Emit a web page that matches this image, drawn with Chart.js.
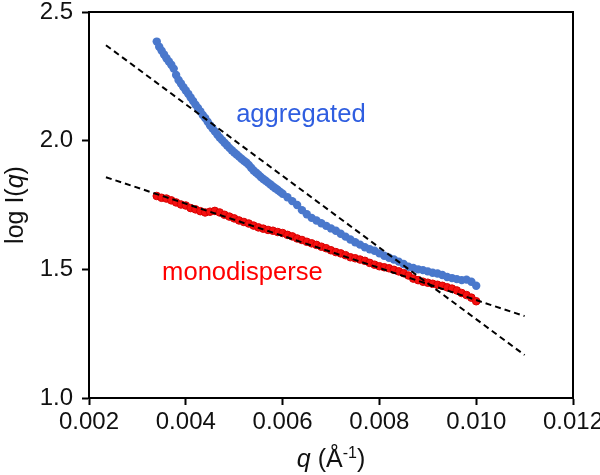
<!DOCTYPE html>
<html>
<head>
<meta charset="UTF-8">
<title>log I(q) vs q</title>
<script src="https://cdn.jsdelivr.net/npm/chart.js"></script>
<style>
  html, body { margin: 0; padding: 0; background: #fff; }
  #wrap { width: 600px; height: 475px; }
</style>
</head>
<body>
<div id="wrap"><canvas id="chart" width="600" height="475"></canvas></div>
<script>
// q values (Å^-1) of the aggregated points (denser where the curve is steep)
const aggregatedQ = [
  0.00340, 0.00345, 0.00350, 0.00355, 0.00360, 0.00365, 0.00370, 0.00375, 0.00380, 0.00385,
  0.00390, 0.00395, 0.00400, 0.00405, 0.00410, 0.00415, 0.00420, 0.00425, 0.00430, 0.00435,
  0.00440, 0.00445, 0.00450, 0.00455, 0.00460, 0.00465, 0.00470, 0.00475, 0.00480, 0.00485,
  0.00490, 0.00495, 0.00500, 0.00505, 0.00510, 0.00515, 0.00520, 0.00525, 0.00530, 0.00535,
  0.00540, 0.00545, 0.00550, 0.00555, 0.00560, 0.00565, 0.00570, 0.00575, 0.00580, 0.00585,
  0.00590, 0.00595,
  0.0060, 0.0061, 0.0062, 0.0063, 0.0064, 0.0065, 0.0066, 0.0067, 0.0068, 0.0069,
  0.0070, 0.0071, 0.0072, 0.0073, 0.0074, 0.0075, 0.0076, 0.0077, 0.0078, 0.0079,
  0.0080, 0.0081, 0.0082, 0.0083, 0.0084, 0.0085, 0.0086, 0.0087, 0.0088, 0.0089,
  0.0090, 0.0091, 0.0092, 0.0093, 0.0094, 0.0095, 0.0096, 0.0097, 0.0098, 0.0099,
  0.0100
];

// log I(q), aggregated sample (blue)
const aggregated = [
  2.385, 2.365, 2.350, 2.335, 2.320, 2.308, 2.295, 2.280, 2.255, 2.236,
  2.222, 2.208, 2.195, 2.182, 2.168, 2.154, 2.140, 2.127, 2.114, 2.100,
  2.088, 2.074, 2.060, 2.048, 2.036, 2.024, 2.012, 2.002, 1.992, 1.982,
  1.972, 1.963, 1.954, 1.946, 1.938, 1.930, 1.922, 1.915, 1.906, 1.895,
  1.884, 1.876, 1.868, 1.859, 1.851, 1.844, 1.837, 1.830, 1.822, 1.815,
  1.808, 1.801,
  1.794, 1.780, 1.765, 1.750, 1.730, 1.714, 1.700, 1.690, 1.679, 1.669,
  1.659, 1.650, 1.638, 1.627, 1.616, 1.605, 1.596, 1.586, 1.578, 1.572,
  1.562, 1.553, 1.545, 1.538, 1.530, 1.521, 1.510, 1.505, 1.500, 1.497,
  1.492, 1.487, 1.484, 1.478, 1.470, 1.466, 1.462, 1.458, 1.460, 1.452,
  1.436
];

// q values (Å^-1) of the monodisperse points
const monodisperseQ = [
  0.0034, 0.0035, 0.0036, 0.0037, 0.0038, 0.0039, 0.0040, 0.0041, 0.0042, 0.0043,
  0.0044, 0.0045, 0.0046, 0.0047, 0.0048, 0.0049, 0.0050, 0.0051, 0.0052, 0.0053,
  0.0054, 0.0055, 0.0056, 0.0057, 0.0058, 0.0059, 0.0060, 0.0061, 0.0062, 0.0063,
  0.0064, 0.0065, 0.0066, 0.0067, 0.0068, 0.0069, 0.0070, 0.0071, 0.0072, 0.0073,
  0.0074, 0.0075, 0.0076, 0.0077, 0.0078, 0.0079, 0.0080, 0.0081, 0.0082, 0.0083,
  0.0084, 0.0085, 0.0086, 0.0087, 0.0088, 0.0089, 0.0090, 0.0091, 0.0092, 0.0093,
  0.0094, 0.0095, 0.0096, 0.0097, 0.0098, 0.0099, 0.0100
];

// log I(q), monodisperse sample (red)
const monodisperse = [
  1.785, 1.778, 1.775, 1.768, 1.760, 1.752, 1.748, 1.738, 1.733, 1.726,
  1.721, 1.724, 1.727, 1.721, 1.712, 1.705, 1.698, 1.690, 1.684, 1.678,
  1.670, 1.663, 1.658, 1.653, 1.650, 1.645, 1.641, 1.634, 1.628, 1.620,
  1.614, 1.607, 1.601, 1.595, 1.588, 1.582, 1.574, 1.567, 1.562, 1.555,
  1.547, 1.543, 1.538, 1.533, 1.525, 1.518, 1.512, 1.508, 1.504, 1.498,
  1.492, 1.485, 1.476, 1.464, 1.458, 1.452, 1.448, 1.444, 1.440, 1.436,
  1.430, 1.425, 1.418, 1.408, 1.400, 1.390, 1.376
];

// linear fits (dashed), end points
const fitQ = [0.00235, 0.0110];
const aggregatedFit = [2.371, 1.167];
const monodisperseFit = [1.858, 1.318];

// axis ticks
const xTicks = [0.002, 0.004, 0.006, 0.008, 0.010, 0.012];
const yTicks = [1.0, 1.5, 2.0, 2.5];

const toPoints = (xs, ys) => xs.map((x, i) => ({ x: x, y: ys[i] }));

const FONT = '"Liberation Sans", Arial, sans-serif';

// frame, axis titles and in-plot labels
const decorations = {
  id: 'decorations',
  afterDraw(chart) {
    const ctx = chart.ctx;
    const a = chart.chartArea;
    const xs = chart.scales.x, ys = chart.scales.y;
    ctx.save();
    ctx.strokeStyle = '#000';
    ctx.lineWidth = 2;
    ctx.strokeRect(a.left, a.top, a.right - a.left, a.bottom - a.top);

    function drawParts(parts, x, y) {
      let w = 0;
      parts.forEach(p => { ctx.font = p.font; w += ctx.measureText(p.text).width; });
      let cx = x - w / 2;
      parts.forEach(p => {
        ctx.font = p.font;
        ctx.fillText(p.text, cx, y + (p.dy || 0));
        cx += ctx.measureText(p.text).width;
      });
    }

    ctx.fillStyle = '#111';
    ctx.textBaseline = 'alphabetic';
    ctx.textAlign = 'left';
    // x title: q (Å-1)
    drawParts([
      { text: 'q', font: 'italic 25px ' + FONT },
      { text: ' (Å', font: '25px ' + FONT },
      { text: '-1', font: '16px ' + FONT, dy: -9 },
      { text: ')', font: '25px ' + FONT }
    ], (a.left + a.right) / 2, 467);

    // y title: log I(q)
    ctx.save();
    ctx.translate(23, (a.top + a.bottom) / 2);
    ctx.rotate(-Math.PI / 2);
    drawParts([
      { text: 'log I(', font: '25px ' + FONT },
      { text: 'q', font: 'italic 25px ' + FONT },
      { text: ')', font: '25px ' + FONT }
    ], 0, 0);
    ctx.restore();

    // series labels
    ctx.font = '25.6px ' + FONT;
    ctx.fillStyle = '#2f5ee0';
    ctx.fillText('aggregated', xs.getPixelForValue(0.00504), ys.getPixelForValue(2.071));
    ctx.fillStyle = '#ff0000';
    ctx.fillText('monodisperse', xs.getPixelForValue(0.00351), ys.getPixelForValue(1.457));
    ctx.restore();
  }
};

new Chart(document.getElementById('chart'), {
  type: 'scatter',
  data: {
    datasets: [
      {
        label: 'aggregated fit',
        data: toPoints(fitQ, aggregatedFit),
        showLine: true,
        borderColor: '#000',
        borderWidth: 2,
        borderDash: [6, 4],
        pointRadius: 0,
        order: 0
      },
      {
        label: 'monodisperse fit',
        data: toPoints(fitQ, monodisperseFit),
        showLine: true,
        borderColor: '#000',
        borderWidth: 2,
        borderDash: [6, 4],
        pointRadius: 0,
        order: 0
      },
      {
        label: 'aggregated',
        data: toPoints(aggregatedQ, aggregated),
        backgroundColor: '#4a78cc',
        borderColor: '#4a78cc',
        borderWidth: 0,
        pointRadius: 4.2,
        order: 2
      },
      {
        label: 'monodisperse',
        data: toPoints(monodisperseQ, monodisperse),
        backgroundColor: '#f41010',
        borderColor: '#d80000',
        borderWidth: 1,
        pointRadius: 3.8,
        order: 1
      }
    ]
  },
  options: {
    responsive: false,
    animation: false,
    devicePixelRatio: 1,
    layout: { padding: { left: 0, top: 12, right: 27, bottom: 0 } },
    plugins: {
      legend: { display: false },
      tooltip: { enabled: false }
    },
    scales: {
      x: {
        type: 'linear',
        min: 0.002,
        max: 0.012,
        afterBuildTicks: scale => { scale.ticks = xTicks.map(v => ({ value: v })); },
        afterFit: scale => {
          scale.height = 77;
          scale.paddingLeft = 0;
          scale.paddingRight = 0;
        },
        ticks: {
          color: '#111',
          font: { family: FONT, size: 24 },
          padding: 3,
          maxRotation: 0,
          autoSkip: false,
          callback: v => v.toFixed(3)
        },
        grid: { drawOnChartArea: false, drawTicks: true, tickLength: 7, tickWidth: 2, tickColor: '#000' },
        border: { display: true, color: '#000', width: 2 }
      },
      y: {
        type: 'linear',
        min: 1.0,
        max: 2.5,
        afterBuildTicks: scale => { scale.ticks = yTicks.map(v => ({ value: v })); },
        afterFit: scale => {
          scale.width = 89;
          scale.paddingTop = 0;
          scale.paddingBottom = 0;
        },
        ticks: {
          color: '#111',
          font: { family: FONT, size: 24 },
          padding: 9,
          autoSkip: false,
          callback: v => v.toFixed(1)
        },
        grid: { drawOnChartArea: false, drawTicks: true, tickLength: 7, tickWidth: 2, tickColor: '#000' },
        border: { display: true, color: '#000', width: 2 }
      }
    }
  },
  plugins: [decorations]
});
</script>
</body>
</html>
